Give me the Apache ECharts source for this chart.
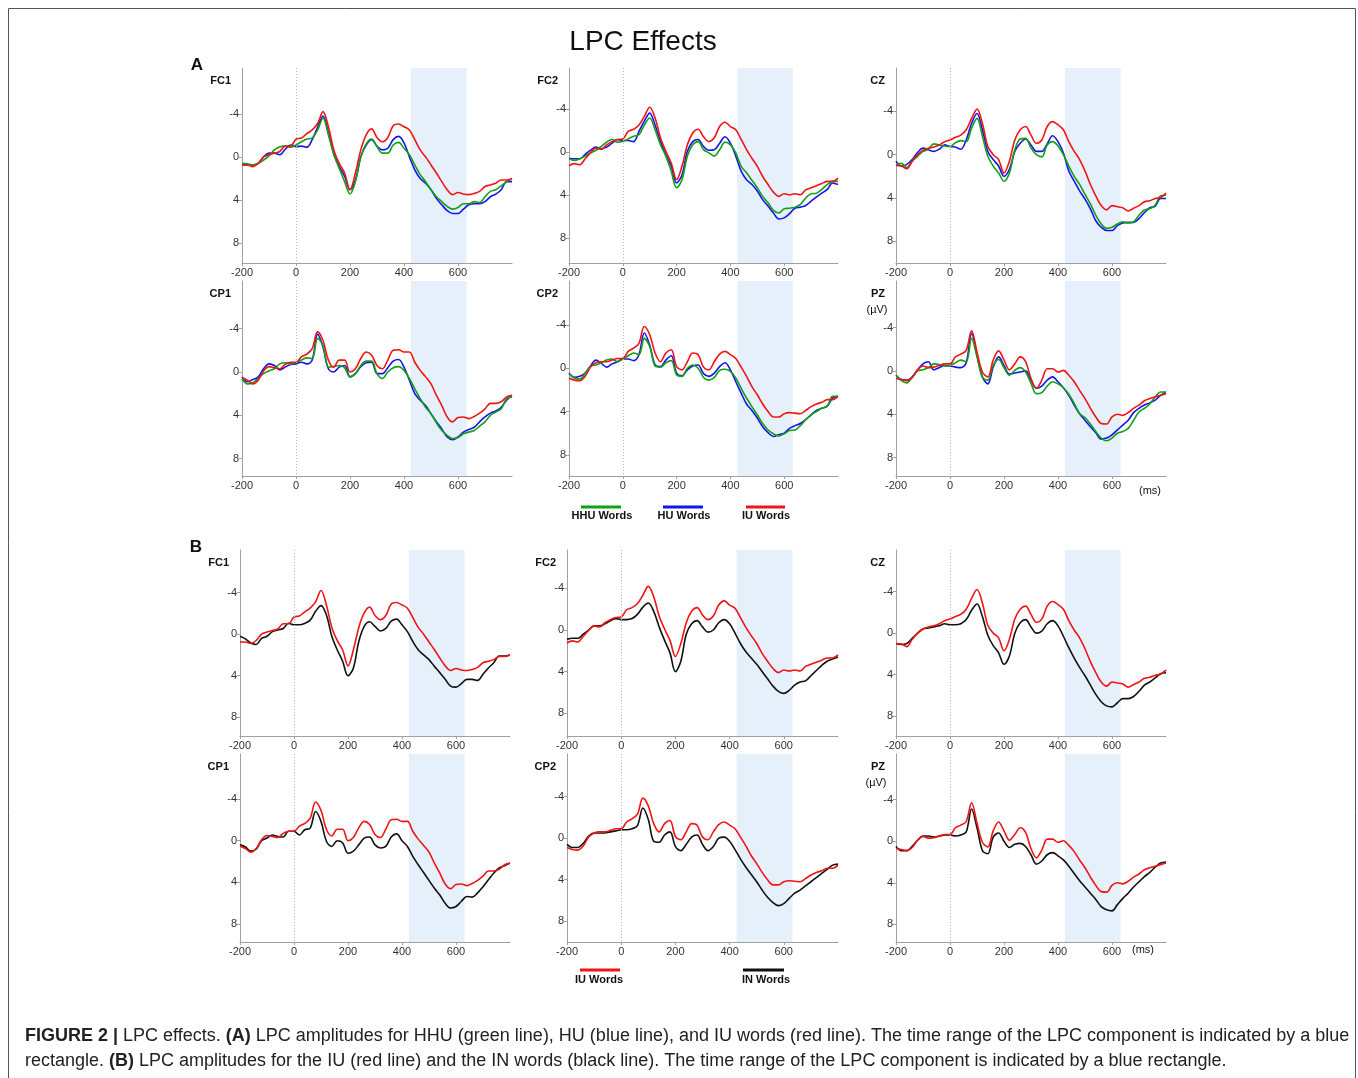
<!DOCTYPE html>
<html>
<head>
<meta charset="utf-8">
<title>LPC Effects</title>
<script src="https://cdn.jsdelivr.net/npm/echarts@6/dist/echarts.min.js"></script>
<style>
  html, body { margin: 0; padding: 0; background: #fff; }
  #chart { width: 1358px; height: 1078px; }
</style>
</head>
<body>
<div id="chart"></div>
<script>
// time points in ms
const times = [-200, -180, -160, -140, -120, -100, -80, -60, -40, -20, 0, 20, 40, 60, 80, 100, 120, 140, 160, 180, 200,
  220, 240, 260, 280, 300, 320, 340, 360, 380, 400, 420, 440, 460, 480, 500, 520, 540, 560, 580, 600,
  620, 640, 660, 680, 700, 720, 740, 760, 780, 800];

const xTicks = [-200, 0, 200, 400, 600];
const yTicks = [-4, 0, 4, 8];
const lpcWindow = [426, 632];

// amplitudes in µV (negative up)
const fc1_HHU = [0.6,0.65,0.75,0.6,0.3,-0.1,-0.65,-0.95,-1.0,-0.9,-1.1,-1.4,-1.65,-1.75,-2.5,-3.6,-2.05,-0.2,1.05,2.3,3.45,2.3,0,-1.2,-1.65,-0.95,-0.35,-0.35,-1.1,-1.35,-0.8,-0.2,0.75,1.65,2.3,3.05,3.7,4.15,4.6,4.85,4.7,4.35,4.35,4.15,4.25,3.7,3.2,3.05,2.7,2.3,2.0];
const fc1_HU = [0.75,0.75,0.75,0.6,0,-0.35,-0.35,-0.2,-0.7,-1.1,-0.95,-1.0,-0.9,-1.6,-2.75,-3.8,-2.2,-0.35,0.9,1.8,3.05,2.15,0,-1.1,-1.6,-1.0,-0.65,-0.8,-1.6,-1.9,-1.3,0,1.2,2.0,2.45,3.05,3.85,4.45,5.0,5.25,5.25,4.85,4.45,4.35,4.35,4.15,3.7,3.45,3.05,2.3,2.3];
const fc1_IU = [0.75,0.75,0.9,0.6,0.0,-0.2,-0.35,-0.5,-1.0,-1.0,-1.65,-1.75,-2.15,-2.5,-3.1,-4.2,-2.8,-0.65,0.6,1.5,3.05,1.5,-0.65,-2.05,-2.6,-1.8,-1.4,-1.8,-2.9,-3.05,-2.8,-2.5,-1.6,-0.65,0,0.75,1.5,2.3,3.05,3.5,3.3,3.45,3.5,3.4,3.2,2.75,2.6,2.45,2.15,2.15,2.0];
const fc1_IN = [0.2,0.45,0.85,1.0,0.4,0.2,-0.25,-0.4,-0.55,-1.05,-0.9,-0.9,-1.05,-1.35,-2.2,-2.75,-1.85,0.2,1.5,2.6,4.0,3.25,0.7,-0.75,-1.2,-0.75,-0.3,-0.55,-1.25,-1.45,-0.9,-0.25,0.7,1.5,2.0,2.45,3.1,3.7,4.35,5.0,5.1,4.75,4.35,4.35,4.45,3.85,3.25,2.75,2.1,2.1,2.0];

const fc2_HHU = [0.6,0.75,0.6,0.35,0.05,-0.2,-0.55,-0.95,-1.2,-0.95,-1.0,-1.25,-1.5,-1.65,-2.55,-3.2,-2.1,-0.7,0.35,1.75,3.3,2.55,0.35,-0.7,-1.0,-0.25,0.05,0.35,-0.25,-0.95,-0.7,0.05,1.3,1.9,2.6,3.3,4.1,4.7,5.4,5.65,5.25,5.2,5.1,4.85,4.25,3.85,3.8,3.45,3.0,2.7,2.7];
const fc2_HU = [0.55,0.6,0.6,0.2,-0.2,-0.5,-0.3,-0.5,-0.85,-1.2,-1.1,-1.1,-1.0,-1.95,-2.9,-3.65,-2.55,-1.0,0.2,1.3,2.85,2.1,-0.1,-1.0,-1.2,-0.55,-0.2,-0.25,-0.85,-1.45,-0.85,0.35,1.75,2.55,3.0,3.6,4.4,5.0,5.65,6.2,6.1,5.7,5.2,5.1,4.95,4.55,4.15,3.8,3.45,2.85,3.0];
const fc2_IU = [1.25,1.05,1.15,0.6,0.05,-0.4,-0.3,-0.7,-1.0,-1.2,-1.25,-1.95,-2.15,-2.55,-3.35,-4.2,-3.2,-1.35,-0.1,1.0,2.55,1.3,-0.7,-1.8,-2.15,-1.45,-1.0,-1.35,-2.4,-2.8,-2.4,-2.1,-1.2,-0.25,0.55,1.3,2.25,3.0,3.7,4.1,3.85,3.95,3.85,3.95,3.5,3.3,3.1,2.9,2.7,2.7,2.4];
const fc2_IN = [0.9,0.8,0.8,0.4,0.0,-0.4,-0.4,-0.6,-0.9,-1.1,-1.0,-1.0,-1.1,-1.5,-2.2,-2.6,-1.8,-0.3,1.0,2.2,4.0,3.0,0.4,-0.6,-0.9,-0.3,0.2,0.0,-0.7,-1.0,-0.6,0.3,1.3,2.1,2.7,3.3,4.0,4.7,5.4,5.9,6.1,5.8,5.3,5.0,4.9,4.4,3.9,3.4,3.0,2.8,2.6];

const cz_HHU = [0.9,0.8,1.2,0.6,0.15,-0.3,-0.5,-1.0,-0.9,-0.8,-0.75,-1.1,-1.3,-1.2,-2.45,-3.35,-1.7,0.15,1.05,1.7,2.45,1.7,-0.45,-1.45,-1.5,-0.6,0.0,0.2,-0.9,-1.2,-0.8,0.0,1.05,2.0,2.75,3.65,4.55,5.6,6.4,6.8,6.7,6.4,6.2,6.3,6.2,5.6,5.1,5.0,4.65,3.8,3.75];
const cz_HU = [0.6,1.05,0.9,0.45,-0.2,-0.6,-0.45,-0.3,-0.5,-0.9,-0.75,-0.7,-0.5,-1.35,-2.9,-3.8,-2.3,-0.3,0.45,1.05,2.0,1.35,-0.3,-1.05,-1.45,-0.9,-0.3,-0.3,-1.0,-1.75,-1.2,-0.15,1.5,2.45,3.35,4.1,5.0,6.1,6.7,7.0,7.0,6.55,6.3,6.25,6.25,5.9,5.35,4.9,4.75,4.05,4.05];
const cz_IU = [1.0,1.05,1.3,0.6,0,-0.4,-0.6,-0.7,-0.9,-1.2,-1.35,-1.6,-1.8,-2.3,-3.35,-4.2,-2.9,-0.75,0.0,0.45,1.7,0.6,-1.35,-2.3,-2.6,-1.8,-1.05,-1.35,-2.6,-3.05,-2.75,-2.3,-1.2,-0.3,0.45,1.5,2.75,3.8,4.7,5.1,4.7,4.8,4.9,5.2,4.95,4.7,4.35,4.25,4.05,3.95,3.55];
const cz_IN = [1.0,1.1,1.0,0.5,0.0,-0.4,-0.5,-0.6,-0.7,-0.9,-0.8,-0.8,-0.9,-1.3,-2.2,-2.8,-1.6,0.2,1.2,1.9,3.0,2.2,0.0,-1.0,-1.3,-0.6,0.0,-0.2,-0.9,-1.2,-0.7,0.3,1.4,2.4,3.3,4.1,5.0,5.9,6.6,7.0,7.1,6.7,6.3,6.3,6.1,5.6,5.0,4.7,4.3,3.9,3.8];

const cp1_HHU = [0.6,1.1,1.0,0.6,0.15,-0.1,-0.3,-0.75,-0.85,-0.75,-0.85,-1.1,-1.3,-1.25,-3.1,-2.45,-0.45,-0.5,-0.6,-0.4,0.45,0.15,-0.6,-1.0,-1.0,0.15,0.6,0,-0.4,-0.5,-0.15,0.6,1.55,2.45,3.25,3.85,4.7,5.4,5.85,6.15,6.05,5.7,5.55,5.4,5.0,4.6,4.0,3.7,3.4,2.45,2.3];
const cp1_HU = [0.45,0.9,0.7,0.45,-0.3,-0.75,-0.6,-0.2,-0.45,-0.7,-0.75,-0.9,-0.75,-1.1,-3.5,-2.3,-0.3,0,-0.45,-0.6,0.45,0.15,-0.5,-0.85,-0.9,0.15,0.15,-0.4,-1.0,-1.15,-0.45,0.75,2.0,2.6,3.1,3.85,4.6,5.25,6.0,6.25,6.0,5.55,5.3,5.1,4.6,4.15,3.8,3.6,3.25,2.6,2.15];
const cp1_IU = [0.5,0.75,1.1,0.75,-0.1,-0.5,-0.4,-0.3,-0.7,-0.9,-0.9,-1.4,-1.65,-2.15,-3.7,-2.9,-1.1,-0.45,-1.1,-1.1,0,-0.3,-1.25,-1.85,-1.55,-0.6,-0.3,-1.1,-2.0,-2.05,-1.85,-1.85,-0.9,-0.15,0.45,1.1,2.15,3.1,4.15,4.6,4.2,4.15,4.3,4.1,3.8,3.4,2.9,2.9,2.75,2.3,2.15];
const cp1_IN = [0.4,0.6,1.0,0.8,0,-0.25,-0.55,-0.4,-0.35,-0.9,-0.9,-0.55,-1.05,-1.2,-2.8,-1.85,0.05,0.55,0,0.2,1.2,1.0,0.4,-0.25,-0.35,0.4,0.7,0.55,-0.35,-0.65,0,0.55,1.5,2.3,3.05,3.8,4.55,5.2,6.0,6.45,6.3,5.8,5.35,5.4,5.0,4.4,3.75,3.1,2.6,2.4,2.15];

const cp2_HHU = [0.5,0.9,1.0,0.5,-0.2,-0.3,-0.5,-0.75,-0.85,-0.6,-0.85,-1.15,-1.4,-1.25,-2.75,-2.0,-0.2,-0.1,-0.5,-0.7,0.6,0.75,0,-0.3,0,0.85,1.1,0.85,0.2,0.1,0.3,0.9,1.85,2.75,3.55,4.3,5.1,5.7,6.05,6.25,6.05,5.75,5.7,5.3,4.75,4.3,4.0,3.7,3.5,2.6,2.6];
const cp2_HU = [0.45,0.85,0.75,0.45,-0.2,-0.75,-0.45,-0.1,-0.4,-0.6,-0.85,-0.85,-0.7,-1.25,-3.25,-2.15,-0.3,-0.15,-0.75,-1.15,0.45,0.7,0.15,-0.2,-0.3,0.5,0.75,0.45,-0.15,-0.5,0.15,1.25,2.3,3.3,3.9,4.6,5.4,5.95,6.3,6.15,6.0,5.55,5.3,5.1,4.75,4.3,3.9,3.7,3.5,2.75,2.6];
const cp2_IU = [0.9,1.1,1.15,0.75,-0.1,-0.5,-0.6,-0.6,-0.75,-0.9,-0.9,-1.55,-1.85,-2.3,-3.85,-3.1,-1.4,-0.6,-1.4,-1.7,-0.15,0.15,-0.6,-1.4,-1.25,-0.1,0.15,-0.6,-1.3,-1.55,-1.25,-0.9,-0.1,0.75,1.7,2.45,3.3,4.0,4.5,4.5,4.2,4.1,4.15,4.2,3.9,3.55,3.3,3.15,2.9,2.9,2.6];
const cp2_IN = [0.6,0.9,0.9,0.5,-0.2,-0.5,-0.5,-0.5,-0.6,-0.7,-0.8,-0.8,-0.9,-1.2,-2.9,-1.8,0.3,0.4,-0.3,-0.6,0.8,1.2,0.6,-0.1,-0.3,0.6,1.2,0.8,0.0,-0.1,0.3,1.1,2.0,2.8,3.5,4.2,5.0,5.7,6.2,6.5,6.3,5.8,5.3,5.0,4.6,4.2,3.8,3.4,3.0,2.6,2.5];

const pz_HHU = [0.4,0.9,1.1,0.6,0,-0.1,-0.3,-0.65,-0.6,-0.45,-0.5,-0.75,-1.0,-0.85,-3.0,-1.3,0.6,0.85,-0.5,-1.05,-0.3,0.4,-0.05,-0.3,0.1,1.15,2.1,2.0,1.4,1.0,1.2,1.55,2.15,3.0,3.95,4.3,4.9,5.6,6.2,6.45,6.2,5.75,5.6,5.3,4.55,3.8,3.45,3.05,2.4,1.95,1.95];
const pz_HU = [0.4,0.8,0.85,0.55,-0.1,-0.65,-0.85,-0.1,-0.3,-0.5,-0.45,-0.35,-0.3,-0.75,-3.45,-1.45,0.55,1.2,-0.35,-1.3,-0.5,0.3,0.2,0.1,0,0.85,1.6,1.4,0.85,0.55,1.0,1.55,2.25,3.15,3.95,4.55,5.15,5.7,6.3,6.2,5.9,5.45,5.0,4.55,3.85,3.45,3.15,2.95,2.7,2.25,2.0];
const pz_IU = [0.7,0.8,0.9,0.6,-0.1,-0.45,-0.3,-0.35,-0.5,-0.65,-0.65,-1.3,-1.55,-1.9,-3.7,-1.75,0.1,0.55,-1.0,-1.85,-1.0,-0.1,-0.65,-1.3,-0.85,0.7,1.6,0.85,-0.2,-0.2,0.1,-0.05,0.4,1.0,1.8,2.55,3.45,4.25,4.85,4.9,4.25,4.0,4.1,3.85,3.45,3.15,2.75,2.55,2.4,2.25,2.1];
const pz_IN = [0.5,0.9,0.9,0.5,-0.1,-0.5,-0.5,-0.4,-0.5,-0.6,-0.6,-0.5,-0.6,-0.9,-3.1,-1.3,0.9,1.2,-0.4,-0.8,0.0,0.6,0.3,0.2,0.5,1.3,2.2,1.9,1.3,1.1,1.4,1.8,2.4,3.1,3.8,4.4,5.0,5.6,6.3,6.6,6.7,6.1,5.5,5.0,4.4,3.9,3.4,3.0,2.5,2.1,2.0];

const COLORS = { HHU: '#13a013', HU: '#1414f0', IU: '#f01414', IN: '#111111' };
const FONT = '"Liberation Sans", Arial, sans-serif';

// panel layout: [label, left, top, width, height, yMin, yMax, lines]
const panels = [
  ['FC1', 242, 68, 270, 195, -8.25, 9.85, [['HU', fc1_HU], ['HHU', fc1_HHU], ['IU', fc1_IU]]],
  ['FC2', 569, 68, 269, 195, -7.85, 10.3, [['HU', fc2_HU], ['HHU', fc2_HHU], ['IU', fc2_IU]]],
  ['CZ', 896, 68, 270, 195, -8.0, 10.0, [['HU', cz_HU], ['HHU', cz_HHU], ['IU', cz_IU]]],
  ['CP1', 242, 281, 270, 195, -8.4, 9.6, [['HU', cp1_HU], ['HHU', cp1_HHU], ['IU', cp1_IU]]],
  ['CP2', 569, 281, 269, 195, -8.05, 9.95, [['HU', cp2_HU], ['HHU', cp2_HHU], ['IU', cp2_IU]]],
  ['PZ', 896, 281, 270, 195, -8.3, 9.7, [['HU', pz_HU], ['HHU', pz_HHU], ['IU', pz_IU]]],
  ['FC1', 240, 550, 270, 186, -8.1, 9.8, [['IN', fc1_IN], ['IU', fc1_IU]]],
  ['FC2', 567, 550, 271, 186, -7.7, 10.2, [['IN', fc2_IN], ['IU', fc2_IU]]],
  ['CZ', 896, 550, 270, 186, -8.0, 9.9, [['IN', cz_IN], ['IU', cz_IU]]],
  ['CP1', 240, 754, 270, 188, -8.3, 9.7, [['IN', cp1_IN], ['IU', cp1_IU]]],
  ['CP2', 567, 754, 271, 188, -8.1, 10.0, [['IN', cp2_IN], ['IU', cp2_IU]]],
  ['PZ', 896, 754, 270, 188, -8.4, 9.7, [['IN', pz_IN], ['IU', pz_IU]]]
];

const grid = [], xAxis = [], yAxis = [], series = [], graphic = [];

panels.forEach(([label, left, top, width, height, yMin, yMax, lines], i) => {
  grid.push({ left: left, top: top, width: width, height: height });
  xAxis.push({
    type: 'value', gridIndex: i, min: -200, max: 800,
    axisLine: { show: true, onZero: false, lineStyle: { color: '#a0a0a0', width: 1 } },
    axisTick: { show: true, length: 3, customValues: xTicks, lineStyle: { color: '#a0a0a0' } },
    axisLabel: { customValues: xTicks, color: '#333', fontSize: 11, margin: 4, fontFamily: FONT },
    splitLine: { show: false }
  });
  yAxis.push({
    type: 'value', gridIndex: i, inverse: true, min: yMin, max: yMax,
    axisLine: { show: true, onZero: false, lineStyle: { color: '#a0a0a0', width: 1 } },
    axisTick: { show: true, length: 3, customValues: yTicks, lineStyle: { color: '#a0a0a0' } },
    axisLabel: { customValues: yTicks, color: '#333', fontSize: 11, margin: 3, fontFamily: FONT },
    splitLine: { show: false }
  });
  // LPC window + stimulus onset
  series.push({
    type: 'line', xAxisIndex: i, yAxisIndex: i, data: [], z: 1, silent: true,
    markArea: {
      silent: true,
      itemStyle: { color: '#e6f0fa' },
      data: [[{ xAxis: lpcWindow[0] }, { xAxis: lpcWindow[1] }]]
    },
    markLine: {
      silent: true, symbol: 'none', label: { show: false },
      lineStyle: { color: '#b5b5b5', type: [1, 2], width: 1 },
      data: [{ xAxis: 0 }]
    }
  });
  lines.forEach(([cond, values]) => {
    series.push({
      type: 'line', name: cond, xAxisIndex: i, yAxisIndex: i, z: 3,
      data: times.map((t, k) => [t, values[k]]),
      showSymbol: false, smooth: 0.35, silent: true,
      lineStyle: { color: COLORS[cond], width: 1.6 }
    });
  });
  graphic.push({
    type: 'text', x: left - 11, y: top + 12.5,
    style: { text: label, font: 'bold 11px ' + FONT, fill: '#111', align: 'right', verticalAlign: 'middle', textAlign: 'right', textVerticalAlign: 'middle' }
  });
});

function txt(text, x, y, font, align) {
  return {
    type: 'text', x: x, y: y,
    style: { text: text, font: font, fill: '#111', align: align || 'center', verticalAlign: 'middle', textAlign: align || 'center', textVerticalAlign: 'middle' }
  };
}
function seg(x1, x2, y, color) {
  return { type: 'line', shape: { x1: x1, y1: y, x2: x2, y2: y }, style: { stroke: color, lineWidth: 3 } };
}

graphic.push(
  { type: 'rect', shape: { x: 8.5, y: 8.5, width: 1347, height: 1090 }, style: { fill: 'none', stroke: '#555', lineWidth: 1 } },
  txt('LPC Effects', 643, 42, '28px ' + FONT),
  txt('A', 197, 65, 'bold 17px ' + FONT),
  txt('B', 196, 547, 'bold 17px ' + FONT),
  txt('(µV)', 877, 310, '11px ' + FONT),
  txt('(µV)', 876, 783, '11px ' + FONT),
  txt('(ms)', 1150, 491, '11px ' + FONT),
  txt('(ms)', 1143, 950, '11px ' + FONT),
  seg(581, 621, 507, COLORS.HHU), txt('HHU Words', 602, 516, 'bold 11px ' + FONT),
  seg(663, 703, 507, COLORS.HU), txt('HU Words', 684, 516, 'bold 11px ' + FONT),
  seg(746, 785, 507, COLORS.IU), txt('IU Words', 766, 516, 'bold 11px ' + FONT),
  seg(580, 620, 970, COLORS.IU), txt('IU Words', 599, 980, 'bold 11px ' + FONT),
  seg(743, 784, 970, COLORS.IN), txt('IN Words', 766, 980, 'bold 11px ' + FONT)
);

const captionRich = {
  n: { fontSize: 18, fontFamily: FONT, fill: '#222' },
  b: { fontSize: 18, fontFamily: FONT, fontWeight: 'bold', fill: '#222' }
};
graphic.push(
  {
    type: 'text', x: 25, y: 1036,
    style: {
      text: '{b|FIGURE 2 |}{n| LPC effects. }{b|(A)}{n| LPC amplitudes for HHU (green line), HU (blue line), and IU words (red line). The time range of the LPC component is indicated by a blue}',
      rich: captionRich, verticalAlign: 'middle', textVerticalAlign: 'middle'
    }
  },
  {
    type: 'text', x: 25, y: 1061,
    style: {
      text: '{n|rectangle. }{b|(B)}{n| LPC amplitudes for the IU (red line) and the IN words (black line). The time range of the LPC component is indicated by a blue rectangle.}',
      rich: captionRich, verticalAlign: 'middle', textVerticalAlign: 'middle'
    }
  }
);

const chart = echarts.init(document.getElementById('chart'));
chart.setOption({
  animation: false,
  backgroundColor: '#fff',
  grid: grid,
  xAxis: xAxis,
  yAxis: yAxis,
  series: series,
  graphic: graphic
});
</script>
</body>
</html>
